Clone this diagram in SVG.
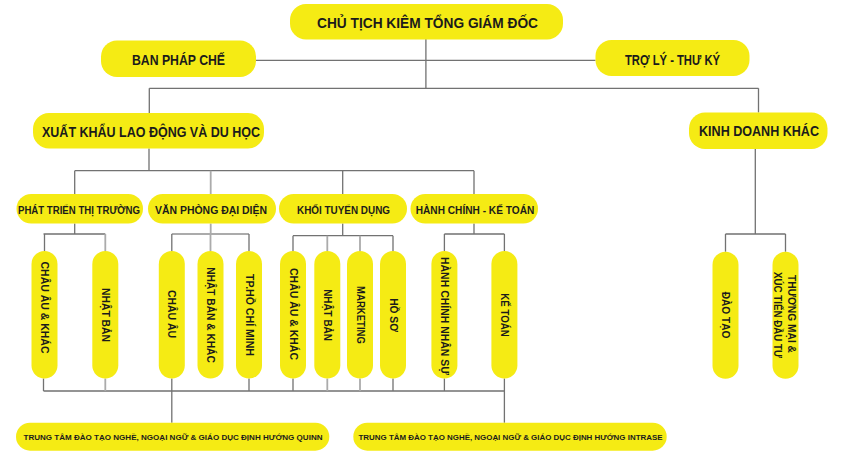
<svg xmlns="http://www.w3.org/2000/svg" width="842" height="457" viewBox="0 0 842 457">
<style>
.p{fill:#F5EB14}
text{font-family:"Liberation Sans",Arial,sans-serif;font-weight:bold;fill:#1b1b1b;text-anchor:middle}
.t1{font-size:14px}
.t2{font-size:10.8px}
.tv{font-size:10.8px}
.t3{font-size:7.6px}
.ln{fill:none;stroke:#727272;stroke-width:1.3}
.lt{fill:none;stroke:#ababab;stroke-width:1.8}
</style>
<rect width="842" height="457" fill="#ffffff"/>
<g id="connectors">
<path class="ln" d="M425.9 39V88.3M256 60.3H595.5M149.3 88.3H758.5M149.3 88.3V113M758.5 88.3V112.5M149 148.5V170.7M74.7 170.7H474M74.7 170.7V194M342.7 170.7V194M474 170.7V194"/>
<path class="ln" d="M74.7 223.5V234M43.5 234H105.3M44.5 234V251"/>
<path class="lt" d="M210.7 170.7V194M210.7 223.5V234M171.8 234H249M210.5 234V251M105.3 234V251"/>
<path class="ln" d="M171.8 234V251M249 234V251"/>
<path class="ln" d="M342.7 223.5V235.7M293 235.7H393M293 235.7V251M393 235.7V251"/>
<path class="lt" d="M327.3 235.7V251M360 235.7V251"/>
<path class="ln" d="M474 223.5V234M444.4 234H504.4M444.4 234V251M504.4 234V251"/>
<path class="ln" d="M755.3 149V234M725.5 234H785.5M725.5 234V251.7M785.5 234V251.7"/>
<path class="ln" d="M43.5 378.5V391M43.5 391H504.4M171.8 378.5V422.7M249 378.5V391M293 378.5V391M393 378.5V391M444.4 378.5V391M504.4 378.5V422.7"/>
<path class="lt" d="M105.3 378.5V391M327.3 378.5V391M360 378.5V391"/>
</g>
<g id="n-ceo"><rect class="p" x="290" y="4" width="273" height="35.5" rx="16"/><text class="t1" x="427.5" y="28" textLength="221" lengthAdjust="spacingAndGlyphs">CHỦ TỊCH KIÊM TỔNG GIÁM ĐỐC</text></g>
<g id="n-phapche"><rect class="p" x="101" y="40.5" width="155" height="36.5" rx="16"/><text class="t1" x="178.5" y="65" textLength="93" lengthAdjust="spacingAndGlyphs">BAN PHÁP CHẾ</text></g>
<g id="n-troly"><rect class="p" x="595.5" y="40" width="154" height="36" rx="16"/><text class="t1" x="672.5" y="64.5" textLength="95" lengthAdjust="spacingAndGlyphs">TRỢ LÝ - THƯ KÝ</text></g>
<g id="n-xkld"><rect class="p" x="33" y="113" width="231" height="35.5" rx="16"/><text class="t1" x="151" y="136.5" textLength="218" lengthAdjust="spacingAndGlyphs">XUẤT KHẨU LAO ĐỘNG VÀ DU HỌC</text></g>
<g id="n-kd"><rect class="p" x="689" y="112.5" width="138.5" height="36.5" rx="16"/><text class="t1" x="759" y="136" textLength="120" lengthAdjust="spacingAndGlyphs">KINH DOANH KHÁC</text></g>
<g id="n-pt"><rect class="p" x="16.5" y="194" width="126.5" height="29.5" rx="14.75"/><text class="t2" x="79" y="213.5" textLength="122" lengthAdjust="spacingAndGlyphs">PHÁT TRIỂN THỊ TRƯỜNG</text></g>
<g id="n-vp"><rect class="p" x="148" y="194" width="128" height="29.5" rx="14.75"/><text class="t2" x="211" y="213.5" textLength="112" lengthAdjust="spacingAndGlyphs">VĂN PHÒNG ĐẠI DIỆN</text></g>
<g id="n-ktd"><rect class="p" x="279" y="194" width="128" height="29.5" rx="14.75"/><text class="t2" x="343.5" y="213.5" textLength="93" lengthAdjust="spacingAndGlyphs">KHỐI TUYỂN DỤNG</text></g>
<g id="n-hc"><rect class="p" x="410.5" y="194" width="127.5" height="29.5" rx="14.75"/><text class="t2" x="475" y="213.5" textLength="118.6" lengthAdjust="spacingAndGlyphs">HÀNH CHÍNH - KẾ TOÁN</text></g>
<g id="n-pt-chauau"><rect class="p" x="31.5" y="251" width="26" height="127.5" rx="13"/><text class="tv" transform="translate(44.5,307.5) rotate(90)" y="3.5" textLength="92" lengthAdjust="spacingAndGlyphs">CHÂU ÂU &amp; KHÁC</text></g>
<g id="n-pt-nhatban"><rect class="p" x="92.3" y="251" width="26" height="127.5" rx="13"/><text class="tv" transform="translate(105.3,315) rotate(90)" y="3.5" textLength="54" lengthAdjust="spacingAndGlyphs">NHẬT BẢN</text></g>
<g id="n-vp-chauau"><rect class="p" x="158.8" y="251" width="26" height="127.5" rx="13"/><text class="tv" transform="translate(171.8,314) rotate(90)" y="3.5" textLength="48" lengthAdjust="spacingAndGlyphs">CHÂU ÂU</text></g>
<g id="n-vp-nhatban"><rect class="p" x="197.5" y="251" width="26" height="127.5" rx="13"/><text class="tv" transform="translate(210.5,315) rotate(90)" y="3.5" textLength="95.7" lengthAdjust="spacingAndGlyphs">NHẬT BẢN &amp; KHÁC</text></g>
<g id="n-vp-hcm"><rect class="p" x="236" y="251" width="26" height="127.5" rx="13"/><text class="tv" transform="translate(249,315) rotate(90)" y="3.5" textLength="82" lengthAdjust="spacingAndGlyphs">TP.HỒ CHÍ MINH</text></g>
<g id="n-k-chauau"><rect class="p" x="280" y="251" width="26" height="127.5" rx="13"/><text class="tv" transform="translate(293,314) rotate(90)" y="3.5" textLength="92" lengthAdjust="spacingAndGlyphs">CHÂU ÂU &amp; KHÁC</text></g>
<g id="n-k-nhatban"><rect class="p" x="314.3" y="251" width="26" height="127.5" rx="13"/><text class="tv" transform="translate(327.3,315) rotate(90)" y="3.5" textLength="51.7" lengthAdjust="spacingAndGlyphs">NHẬT BẢN</text></g>
<g id="n-k-marketing"><rect class="p" x="347" y="251" width="26" height="127.5" rx="13"/><text class="tv" transform="translate(360,315) rotate(90)" y="3.5" textLength="58" lengthAdjust="spacingAndGlyphs">MARKETING</text></g>
<g id="n-k-hoso"><rect class="p" x="380" y="251" width="26" height="127.5" rx="13"/><text class="tv" transform="translate(393,315) rotate(90)" y="3.5" textLength="33.7" lengthAdjust="spacingAndGlyphs">HỒ SƠ</text></g>
<g id="n-hc-ns"><rect class="p" x="431.4" y="251" width="26" height="127.5" rx="13"/><text class="tv" transform="translate(444.4,316) rotate(90)" y="3.5" textLength="118" lengthAdjust="spacingAndGlyphs">HÀNH CHÍNH NHÂN SỰ</text></g>
<g id="n-hc-kt"><rect class="p" x="491.4" y="251" width="26" height="127.5" rx="13"/><text class="tv" transform="translate(504.4,315) rotate(90)" y="3.5" textLength="43.7" lengthAdjust="spacingAndGlyphs">KẾ TOÁN</text></g>
<g id="n-kd-daotao"><rect class="p" x="712.5" y="251.7" width="26" height="127" rx="13"/><text class="tv" transform="translate(725.5,315) rotate(90)" y="3.5" textLength="46.7" lengthAdjust="spacingAndGlyphs">ĐÀO TẠO</text></g>
<g id="n-kd-tm"><rect class="p" x="772.5" y="251.7" width="26" height="127" rx="13"/><text class="tv" transform="translate(785.5,314) rotate(90)" y="-2.2" textLength="78" lengthAdjust="spacingAndGlyphs">THƯƠNG MẠI &amp;</text><text class="tv" transform="translate(785.5,315) rotate(90)" y="11.2" textLength="86" lengthAdjust="spacingAndGlyphs">XÚC TIẾN ĐẦU TƯ</text></g>
<g id="n-quinn"><rect class="p" x="16" y="422.7" width="313.3" height="28" rx="14"/><text class="t3" x="173" y="440.3" textLength="299" lengthAdjust="spacingAndGlyphs">TRUNG TÂM ĐÀO TẠO NGHỀ, NGOẠI NGỮ &amp; GIÁO DỤC ĐỊNH HƯỚNG QUINN</text></g>
<g id="n-intrase"><rect class="p" x="353.3" y="422.7" width="313.4" height="28" rx="14"/><text class="t3" x="510.5" y="440.3" textLength="304" lengthAdjust="spacingAndGlyphs">TRUNG TÂM ĐÀO TẠO NGHỀ, NGOẠI NGỮ &amp; GIÁO DỤC ĐỊNH HƯỚNG INTRASE</text></g>
</svg>
